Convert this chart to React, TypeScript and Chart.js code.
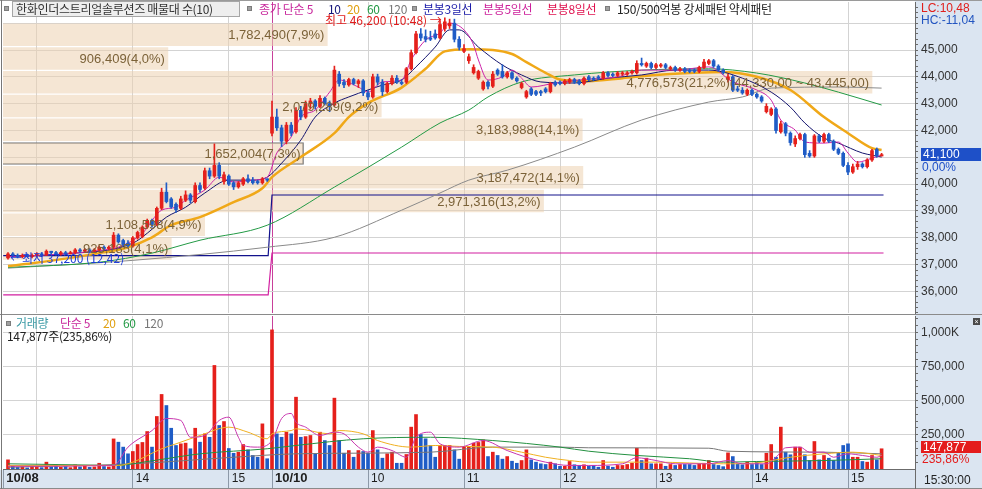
import React, { useEffect, useRef } from 'react';
import { Chart, registerables } from 'chart.js';

Chart.register(...registerables);

const KFONT = '"Noto Sans CJK KR", "Noto Sans", sans-serif';
const NFONT = '"Liberation Sans", Arial, sans-serif';

// 3-minute candles [open, high, low, close] — 10/08 from 12:42
const candles1008 = [
  [37250,37450,37200,37400],[37400,37450,37300,37350],[37350,37400,37250,37300],[37300,37400,37250,37350],[37350,37400,37300,37300],
  [37300,37400,37250,37350],[37350,37450,37300,37400],[37400,37450,37300,37350],[37350,37550,37350,37500],[37500,37500,37400,37450],
  [37450,37500,37350,37400],[37400,37500,37350,37450],[37450,37500,37400,37400],[37400,37500,37400,37450],[37450,37600,37400,37550],
  [37550,37600,37450,37500],[37500,37600,37450,37550],[37550,37600,37450,37500],[37500,37600,37450,37550],[37550,37700,37500,37650],
  [37650,37700,37550,37600],[37600,37700,37550,37650],[37650,38200,37600,38100],[38100,38150,37800,37850],[37900,37950,37700,37750],
  [37800,37900,37650,37700],[37700,38050,37650,38000],[38000,38250,37950,38200],[38050,38450,38000,38400],[38400,38700,38350,38650],
  [38650,38700,38400,38500],[38500,39150,38450,39100],[39100,39850,39050,39700],[39700,40050,39300,39350],[39450,39500,39100,39150],
  [39250,39300,38950,39050],[39100,39550,39050,39450],[39400,39750,39350,39600],[39600,39650,39300,39400],[39350,40050,39300,39950],
  [39950,40050,39700,39800],[39850,40600,39800,40500],[40500,40600,40200,40300],[40300,41500,40250,40700],[40700,40800,40200,40300],
  [40100,40450,40000,40350],[40300,40350,39950,40000],[40050,40100,39800,39900],[39900,40100,39850,40050],[40000,40250,39950,40200],
  [40200,40350,40050,40100],[40150,40250,40000,40050],[40100,40150,40000,40050],[40050,40250,40000,40200],[40200,40200,40100,40150],
];

// 10/10 from 09:00
const candles1010 = [
  [41900,43100,41800,42500],[42500,42800,42000,42100],[42100,42200,41400,41600],[41600,42300,41500,42200],[42200,42300,41800,41900],
  [41950,42850,41900,42750],[42750,42900,42400,42500],[42500,43100,42450,43000],[43000,43200,42800,43100],[43100,43150,42800,42900],
  [42900,43300,42850,43200],[43200,43250,42950,43000],[43000,43100,42700,42900],[42950,44400,42900,44250],[44100,44200,43650,43750],
  [43800,43900,43600,43700],[43700,43950,43650,43900],[43900,43950,43700,43750],[43750,43900,43600,43850],[43850,43900,43300,43400],
  [43400,43500,43150,43250],[43250,44100,43200,44000],[44000,44100,43700,43800],[43800,43900,43300,43450],[43450,43800,43400,43750],
  [43750,44050,43700,43950],[43950,44050,43750,43800],[43800,43900,43700,43750],[43800,44350,43750,44300],[44300,45000,44250,44900],
  [44900,45700,44850,45600],[45600,45800,45350,45450],[45500,45750,45300,45400],[45450,45700,45350,45400],[45600,45750,45400,45450],
  [45450,46100,45400,45950],[45800,46200,45700,46050],[45900,46150,45800,46000],[46000,46150,45300,45400],[45400,45500,45000,45100],
  [44950,45200,44900,45050],[44600,44850,44500,44750],[44150,44450,44100,44350],[43950,44250,43900,44200],[43550,43850,43500,43800],
  [43800,43850,43550,43650],[43650,44200,43600,44100],[44250,44300,44050,44100],[44200,44450,43950,44000],[44000,44200,43950,44150],
  [44150,44200,43900,43950],[43950,44000,43800,43850],[43600,43800,43550,43750],[43250,43500,43200,43450],[43550,43600,43300,43350],
  [43450,43500,43300,43350],[43450,43500,43300,43400],[43550,43600,43400,43450],[43450,43800,43400,43750],[43800,43850,43650,43700],
  [43800,43850,43700,43750],[43750,43900,43700,43850],[43800,43950,43750,43900],[43900,43950,43750,43800],[43850,43900,43700,43750],
  [43750,44000,43700,43950],[44000,44050,43850,43900],[43950,44000,43850,43900],[44000,44050,43900,43950],[43950,44200,43900,44150],
  [44150,44200,44000,44050],[44100,44150,44000,44050],[44050,44200,44000,44150],[44100,44200,44050,44150],[44100,44200,44050,44150],
  [44150,44250,44100,44200],[44150,44600,44100,44500],[44500,44700,44400,44450],[44400,44550,44350,44500],[44500,44550,44300,44350],
  [44350,44500,44300,44450],[44400,44500,44350,44450],[44450,44500,44300,44350],[44300,44400,44250,44350],[44350,44400,44200,44250],
  [44250,44350,44200,44300],[44300,44350,44150,44200],[44250,44300,44150,44200],[44250,44300,44150,44200],[44200,44400,44150,44350],
  [44350,44650,44300,44550],[44500,44650,44450,44600],[44600,44650,44350,44400],[44400,44450,44200,44250],[44250,44300,44100,44150],
  [43900,44100,43800,44000],[44000,44050,43450,43500],[43550,43650,43450,43500],[43500,43600,43350,43400],[43350,43550,43300,43500],
  [43500,43550,43300,43350],[43350,43400,43200,43250],[43250,43300,43050,43100],[42700,43000,42650,42900],[42600,42850,42550,42800],
  [42800,42850,41900,42000],[41950,42350,41900,42250],[42250,42300,41800,41900],[41900,41950,41450,41550],[41500,41800,41400,41700],
  [41700,41900,41650,41850],[41850,41900,41000,41100],[41150,41250,41000,41050],[41050,41850,41000,41800],[41800,41850,41550,41600],
  [41600,41900,41550,41850],[41850,41900,41550,41600],[41600,41650,41250,41300],[41300,41350,41100,41150],[41150,41200,40650,40700],
  [40700,40800,40350,40450],[40450,40750,40400,40650],[40650,40850,40550,40750],[40750,40800,40600,40650],[40650,40950,40600,40900],
  [40900,41300,40850,41250],[41300,41350,41000,41050],[41050,41150,41050,41100],
];

const volume1008 = [
  67000,20000,12000,15000,8000, 18000,12000,10000,50000,15000,
  30000,12000,18000,10000,30000, 15000,20000,12000,15000,42000,
  18000,15000,220000,196000,160000, 111000,128000,179000,194000,274000,
  160000,384000,545000,464000,298000, 172000,184000,189000,148000,298000,
  196000,257000,232000,757000,318000, 347000,150000,115000,123000,179000,
  140000,99000,86000,330000,75000,
];

const volume1010 = [
  1017000,257000,232000,269000,257000, 525000,232000,237000,245000,111000,
  269000,208000,172000,518000,208000, 115000,135000,86000,135000,128000,
  115000,281000,140000,79000,111000, 123000,42000,42000,106000,306000,
  398000,252000,221000,172000,86000, 172000,172000,172000,140000,72000,
  164000,164000,189000,194000,213000, 91000,123000,99000,72000,91000,
  57000,42000,62000,140000,67000, 50000,38000,33000,50000,38000,
  20000,20000,55000,31000,26000, 31000,20000,26000,13000,62000,
  20000,13000,26000,26000,33000, 42000,152000,62000,79000,38000,
  38000,38000,20000,33000,26000, 33000,33000,33000,26000,38000,
  42000,62000,33000,26000,17000, 118000,91000,38000,31000,50000,
  33000,50000,33000,115000,179000, 86000,306000,123000,104000,160000,
  160000,104000,62000,201000,67000, 99000,79000,62000,115000,172000,
  184000,86000,86000,55000,50000, 99000,67000,147877,
];

// moving averages: [bar index, value]
const ma5Points = [[0,37300],[10,37380],[20,37550],[23,37650],[28,38170],[32,39030],[35,39140],[37,39400],[41,39780],[44,40260],[47,40080],[51,40150],[54,40260],[56,41160],[59,41760],[61,42500],[64,42760],[67,43430],[69,43880],[73,43620],[75,43430],[78,43810],[82,43880],[84,44630],[87,45370],[90,45630],[92,46000],[95,45750],[97,45190],[98,44630],[100,43880],[103,44000],[105,44250],[107,43950],[109,43620],[114,43770],[120,43900],[127,44000],[132,44250],[139,44250],[146,44370],[151,43810],[156,43510],[159,43130],[161,42390],[164,42015],[166,41570],[170,41530],[173,41570],[175,41160],[177,40820],[180,40970],[182,41080]];
const ma10Points = [[0,37300],[12,37400],[26,37800],[29,38170],[33,38770],[37,39140],[41,39670],[46,40150],[51,40150],[54,40260],[57,40780],[61,41640],[64,42500],[68,43020],[71,43250],[75,43510],[78,43690],[82,43880],[85,44370],[89,45110],[92,45750],[94,45750],[98,45110],[103,44440],[107,44070],[111,43810],[118,43770],[125,43950],[132,44070],[139,44250],[146,44250],[153,43950],[159,43430],[163,42870],[166,42280],[170,41720],[173,41530],[178,41160],[180,41080],[182,41010]];
const ma20Points = [[0,36950],[5,37050],[19,37430],[25,37650],[30,38020],[34,38470],[40,38770],[47,39330],[53,39850],[55,40260],[61,41010],[68,41900],[71,42500],[75,43020],[82,43600],[87,44300],[91,44950],[96,45030],[101,45000],[105,44850],[108,44550],[112,44150],[115,43900],[121,43840],[128,43950],[135,44070],[142,44140],[149,44180],[156,44000],[163,43510],[170,42500],[175,41900],[180,41340],[182,41270]];
const ma60Points = [[0,36900],[19,37090],[30,37430],[40,37910],[54,38470],[68,39890],[82,41380],[90,42280],[96,42760],[100,43250],[107,43810],[118,44070],[132,44250],[146,44300],[156,44140],[166,43770],[173,43430],[182,42950]];
const ma120Points = [[0,36870],[26,37160],[54,37650],[68,38020],[82,39030],[90,39670],[96,40150],[104,40520],[118,41380],[132,42390],[146,43060],[153,43250],[159,43580],[173,43620],[182,43580]];

const volMa5Points = [[0,20000],[22,25000],[25,160000],[30,281000],[33,369000],[36,355000],[38,232000],[41,245000],[44,355000],[46,379000],[48,232000],[49,172000],[52,160000],[55,208000],[57,369000],[59,406000],[60,342000],[62,306000],[65,245000],[68,269000],[70,257000],[73,160000],[75,123000],[77,160000],[80,135000],[83,86000],[85,232000],[88,269000],[90,184000],[94,160000],[99,208000],[104,135000],[108,86000],[112,50000],[117,26000],[121,26000],[128,38000],[131,82000],[133,75000],[135,62000],[139,38000],[146,38000],[150,62000],[153,38000],[158,38000],[160,86000],[162,155000],[165,160000],[167,123000],[170,123000],[172,86000],[175,111000],[178,99000],[181,86000],[182,99000]];
const volMa20Points = [[0,26000],[23,26000],[26,50000],[32,148000],[35,184000],[40,245000],[46,306000],[50,269000],[54,221000],[55,257000],[59,281000],[60,294000],[67,257000],[69,281000],[74,257000],[77,208000],[84,160000],[89,172000],[94,165000],[101,160000],[107,123000],[112,86000],[117,62000],[121,50000],[135,50000],[149,38000],[156,45000],[163,86000],[170,111000],[176,123000],[182,99000]];
const volMa60Points = [[0,38000],[15,30000],[22,25000],[30,60000],[40,111000],[54,148000],[60,172000],[74,221000],[88,232000],[101,208000],[115,160000],[121,130000],[131,99000],[142,75000],[149,50000],[156,55000],[170,62000],[182,75000]];
const volMa120Points = [[0,13000],[26,38000],[47,86000],[60,111000],[88,123000],[101,160000],[115,160000],[121,155000],[146,152000],[150,130000],[170,123000],[182,111000]];

// 분봉3일선 / 분봉5일선 levels
const step3Line = [[-1,37335],[54.2,37335],[55,39595],[182.4,39595]];
const step5Line = [[-1,35870],[54.2,35870],[55,37435],[182.4,37435]];

// x axis
const hourTicks = [-1, 6, 26, 46, 55, 75, 95, 115, 135, 155, 175];
const hourLabels = ['10/08', '', '14', '15', '10/10', '10', '11', '12', '13', '14', '15'];
const dayBreakIndex = 55;

// y axes
const priceTicks = [36000, 37000, 38000, 39000, 40000, 41000, 42000, 43000, 44000, 45000];
const volumeTicks = [250000, 500000, 750000, 1000000];
const volumeTickLabels = ['250,000', '500,000', '750,000', '1,000K'];

// 매물대 (volume profile), low band -> high band
const profileVolumes = [925185, 1108598, 2971316, 3187472, 1652004, 3183988, 2079289, 4776573, 906409, 1782490];
const profilePercents = ['4,1', '4,9', '13,2', '14,1', '7,3', '14,1', '9,2', '21,2', '4,0', '7,9'];
const profileBottom = 37160;
const profileStep = 885;
const profileCurrentBand = 4;
const profileMaxRange = '(44,330,00 ~ 43,445,00)';

const highPoint = { index: 91, price: 46200, label: '최고 46,200 (10:48) →' };
const lowPoint = { index: 0, price: 37200, label: '←최저 37,200 (12,42)' };

// axis ranges (layout)
const P_MIN = 35198, P_MAX = 46789;
const V_MAX = 1118400;
const X_MIN = -1.042, X_MAX = 188.958;
const PROFILE_MAX = 5012920;

const RED = '#e5201b';
const BLUE = '#1f5cc6';

const fmt = (v) => Number(v).toLocaleString('en-US');

function makeXScale(withLabels) {
  return {
    type: 'linear',
    position: 'bottom',
    min: X_MIN,
    max: X_MAX,
    offset: false,
    afterBuildTicks: (scale) => { scale.ticks = hourTicks.map((v) => ({ value: v })); },
    afterFit: (scale) => {
      scale.height = withLabels ? 20 : 0;
      scale.paddingLeft = 0;
      scale.paddingRight = 0;
    },
    border: { display: withLabels, color: '#6b6b6b' },
    grid: {
      offset: false,
      color: (c) => {
        const v = c.tick ? c.tick.value : null;
        if (v === dayBreakIndex) return '#c8409a';
        if (v === null || v < 0) return 'rgba(0,0,0,0)';
        return '#d3d3d3';
      },
      drawTicks: withLabels,
      tickLength: 19,
      tickColor: (c) => (c.tick && c.tick.value === 6 ? 'rgba(0,0,0,0)' : '#8d99a8'),
    },
    ticks: {
      display: withLabels,
      autoSkip: false,
      maxRotation: 0,
      minRotation: 0,
      align: 'start',
      padding: -17,
      labelOffset: 3,
      color: '#1e1e1e',
      font: (c) => {
        const lab = hourLabels[c.index] || '';
        return lab.includes('/') ? { family: NFONT, size: 13, weight: 'bold' } : { family: NFONT, size: 12 };
      },
      callback: (_v, i) => hourLabels[i],
    },
  };
}

const lineDs = (pts, color, width, order, smooth = true) => ({
  type: 'line',
  xAxisID: 'x',
  yAxisID: 'y',
  data: pts.map(([x, y]) => ({ x, y })),
  borderColor: color,
  borderWidth: width,
  pointRadius: 0,
  fill: false,
  cubicInterpolationMode: smooth ? 'monotone' : 'default',
  tension: 0,
  order,
});

const annotationPlugin = {
  id: 'priceAnnotations',
  afterDatasetsDraw(chart) {
    const ctx = chart.ctx;
    const meta = chart.getDatasetMeta(chart.data.datasets.length - 1);
    ctx.save();
    ctx.font = `13px ${NFONT}`;
    ctx.fillStyle = '#7b6238';
    ctx.textAlign = 'right';
    ctx.textBaseline = 'middle';
    const maxVol = Math.max(...profileVolumes);
    meta.data.forEach((el, k) => {
      let label = `${fmt(profileVolumes[k])}(${profilePercents[k]}%)`;
      if (profileVolumes[k] === maxVol) label += profileMaxRange;
      ctx.fillText(label, el.x - 3, el.y + 1);
    });
    const xs = chart.scales.x;
    const ys = chart.scales.y;
    ctx.font = `12px ${KFONT}`;
    ctx.fillStyle = '#e01c1c';
    ctx.textAlign = 'right';
    ctx.fillText(highPoint.label, xs.getPixelForValue(highPoint.index) - 3, ys.getPixelForValue(highPoint.price) + 3);
    ctx.fillStyle = '#1c3cd8';
    ctx.textAlign = 'left';
    ctx.fillText(lowPoint.label, xs.getPixelForValue(lowPoint.index) + 2, ys.getPixelForValue(lowPoint.price) - 1);
    ctx.restore();
  },
};

function makeYScale(min, max, tickFrom, tickTo, tickStep, majorStep, labelFor) {
  return {
    type: 'linear',
    position: 'right',
    min,
    max,
    offset: false,
    afterBuildTicks: (s) => {
      const t = [];
      for (let v = tickFrom; v <= tickTo; v += tickStep) t.push({ value: v });
      s.ticks = t;
    },
    afterFit: (s) => {
      s.width = 67;
      s.paddingTop = 0;
      s.paddingBottom = 0;
    },
    border: { color: '#6b6b6b' },
    grid: {
      offset: false,
      color: (c) => (c.tick && c.tick.value % majorStep === 0 ? '#d3d3d3' : 'rgba(0,0,0,0)'),
      tickColor: '#6b6b6b',
      tickLength: 3,
    },
    ticks: {
      autoSkip: false,
      padding: 3,
      color: '#333',
      font: { family: NFONT, size: 12 },
      callback: labelFor,
    },
  };
}

export default function App() {
  const priceRef = useRef(null);
  const volRef = useRef(null);

  useEffect(() => {
    document.body.style.margin = '0';
    const candles = [...candles1008, ...candles1010];
    const volumes = [...volume1008, ...volume1010];
    const colors = candles.map((c) => (c[3] >= c[0] ? RED : BLUE));

    const common = {
      responsive: false,
      animation: false,
      events: [],
      plugins: { legend: { display: false }, tooltip: { enabled: false } },
    };

    const price = new Chart(priceRef.current, {
      type: 'bar',
      data: {
        datasets: [
          {
            type: 'bar', xAxisID: 'x', yAxisID: 'y',
            data: candles.map((c, i) => ({ x: i, y: [c[0], c[3]] })),
            backgroundColor: colors, barThickness: 3, grouped: false, minBarLength: 1, order: 0,
          },
          {
            type: 'bar', xAxisID: 'x', yAxisID: 'y',
            data: candles.map((c, i) => ({ x: i, y: [c[2], c[1]] })),
            backgroundColor: colors, barThickness: 1, grouped: false, minBarLength: 1, order: 1,
          },
          lineDs(ma5Points, '#cc22a8', 1, 3),
          lineDs(ma10Points, '#14146e', 1, 3),
          lineDs(ma20Points, '#f0a818', 2.5, 4),
          lineDs(ma60Points, '#239a45', 1, 4),
          lineDs(ma120Points, '#8a8a8a', 1, 4),
          lineDs(step3Line, '#12128c', 1.2, 6, false),
          lineDs(step5Line, '#d21fa0', 1.2, 6, false),
          {
            type: 'bar', indexAxis: 'y', xAxisID: 'xv', yAxisID: 'y',
            data: profileVolumes.map((v, k) => ({ x: v, y: profileBottom + profileStep * (k + 0.5) })),
            backgroundColor: 'rgba(237,210,177,0.55)',
            borderColor: (c) => (c.dataIndex === profileCurrentBand ? '#7a7a7a' : 'rgba(0,0,0,0)'),
            borderWidth: (c) => (c.dataIndex === profileCurrentBand ? 1 : 0),
            borderSkipped: 'start',
            barThickness: 22, grouped: false, order: 10,
          },
        ],
      },
      options: {
        ...common,
        layout: { padding: { top: 2, left: 3, bottom: 2, right: 0 } },
        scales: {
          x: makeXScale(false),
          xv: { type: 'linear', axis: 'x', display: false, min: 0, max: PROFILE_MAX, offset: false, grid: { offset: false } },
          y: makeYScale(P_MIN, P_MAX, 35200, 46600, 200, 1000, (v) => (priceTicks.includes(v) ? fmt(v) : '')),
        },
      },
      plugins: [annotationPlugin],
    });

    const vol = new Chart(volRef.current, {
      type: 'bar',
      data: {
        datasets: [
          {
            type: 'bar', xAxisID: 'x', yAxisID: 'y',
            data: volumes.map((v, i) => ({ x: i, y: v })),
            backgroundColor: colors, barThickness: 3, grouped: false, order: 2,
          },
          lineDs(volMa5Points, '#c836ae', 1, 0),
          lineDs(volMa20Points, '#f0b020', 1, 0),
          lineDs(volMa60Points, '#239040', 1, 0),
          lineDs(volMa120Points, '#777777', 1, 0),
        ],
      },
      options: {
        ...common,
        layout: { padding: { top: 1, left: 3, bottom: 0, right: 0 } },
        scales: {
          x: makeXScale(true),
          y: makeYScale(0, V_MAX, 50000, 1100000, 50000, 250000, (v) => {
            const k = volumeTicks.indexOf(v);
            return k >= 0 ? volumeTickLabels[k] : '';
          }),
        },
      },
    });

    return () => {
      price.destroy();
      vol.destroy();
    };
  }, []);

  const abs = (left, top, extra = {}) => ({ position: 'absolute', left, top, whiteSpace: 'nowrap', ...extra });
  const legendFont = { fontFamily: KFONT, fontSize: 12, lineHeight: '14px', letterSpacing: '-0.3px' };
  const numFont = { fontFamily: NFONT, fontSize: 12, lineHeight: '12px' };
  const sq = (left, top) => (
    <div style={abs(left, top, { width: 5, height: 5, background: '#a0a0a0', border: '1px solid #7c7c7c', boxSizing: 'border-box' })} />
  );

  return (
    <div style={{ position: 'absolute', left: 0, top: 0, width: 982, height: 489, background: '#fff', overflow: 'hidden' }}>
      <div style={abs(915, 0, { width: 67, height: 489, background: '#dbe5f1' })} />
      <div style={abs(0, 470, { width: 982, height: 19, background: '#dbe5f1' })} />
      <canvas ref={priceRef} width={982} height={315} style={{ position: 'absolute', left: 0, top: 0 }} />
      <canvas ref={volRef} width={982} height={174} style={{ position: 'absolute', left: 0, top: 315 }} />
      <div style={abs(0, 0, { width: 982, height: 1, background: '#9a9a9a' })} />
      <div style={abs(0, 314, { width: 982, height: 1, background: '#8a8a8a' })} />
      <div style={abs(0, 488, { width: 982, height: 1, background: '#8a8a8a' })} />
      <div style={abs(1, 0, { width: 1, height: 489, background: '#777' })} />
      <div style={abs(915, 470, { width: 1, height: 19, background: '#6b6b6b' })} />

      {sq(4, 6)}
      <div style={abs(12, 1, { width: 228, height: 16, border: '1px solid #a6a6a6', background: '#eeeeee', boxSizing: 'border-box' })} />
      <span style={abs(16, 2, { ...legendFont, color: '#333' })}>한화인더스트리얼솔루션즈 매물대 수(10)</span>
      {sq(247, 6)}
      <span style={abs(259, 2, { ...legendFont, color: '#c8289c' })}>종가 단순 5</span>
      <span style={abs(328, 2, { ...legendFont, color: '#14147a' })}>10</span>
      <span style={abs(347, 2, { ...legendFont, color: '#e0a010' })}>20</span>
      <span style={abs(367, 2, { ...legendFont, color: '#229944' })}>60</span>
      <span style={abs(388, 2, { ...legendFont, color: '#777' })}>120</span>
      {sq(412, 6)}
      <span style={abs(423, 2, { ...legendFont, color: '#1a1aa8' })}>분봉3일선</span>
      <span style={abs(483, 2, { ...legendFont, color: '#cc1f9a' })}>분봉5일선</span>
      <span style={abs(547, 2, { ...legendFont, color: '#e0104e' })}>분봉8일선</span>
      {sq(605, 6)}
      <span style={abs(617, 2, { ...legendFont, color: '#222' })}>150/500억봉 강세패턴 약세패턴</span>

      {sq(6, 321)}
      <span style={abs(16, 316, { ...legendFont, color: '#3a9aa5' })}>거래량</span>
      <span style={abs(60, 316, { ...legendFont, color: '#c8289c' })}>단순 5</span>
      <span style={abs(103, 316, { ...legendFont, color: '#e0a010' })}>20</span>
      <span style={abs(123, 316, { ...legendFont, color: '#229944' })}>60</span>
      <span style={abs(144, 316, { ...legendFont, color: '#777' })}>120</span>
      <span style={abs(7, 329, { ...legendFont, color: '#222' })}>147,877주(235,86%)</span>

      <span style={abs(921, 2, { ...numFont, color: '#e0201c' })}>LC:10,48</span>
      <span style={abs(921, 14, { ...numFont, color: '#2255c0' })}>HC:-11,04</span>
      <div style={abs(921, 148, { ...numFont, width: 60, height: 13, lineHeight: '13px', background: '#1e50c8', color: '#fff', paddingLeft: 2, boxSizing: 'border-box' })}>41,100</div>
      <span style={abs(922, 161, { ...numFont, color: '#1e50c8' })}>0,00%</span>
      <div style={abs(921, 441, { ...numFont, width: 60, height: 12, background: '#e41c1c', color: '#fff', paddingLeft: 2, boxSizing: 'border-box' })}>147,877</div>
      <span style={abs(922, 453, { ...numFont, color: '#e41c1c' })}>235,86%</span>
      <span style={abs(924, 474, { ...numFont, color: '#222' })}>15:30:00</span>
      <div style={abs(973, 318, { width: 7, height: 7, background: '#4a4a4a', color: '#fff', fontSize: 7, lineHeight: '7px', textAlign: 'center', fontFamily: NFONT })}>×</div>
    </div>
  );
}
